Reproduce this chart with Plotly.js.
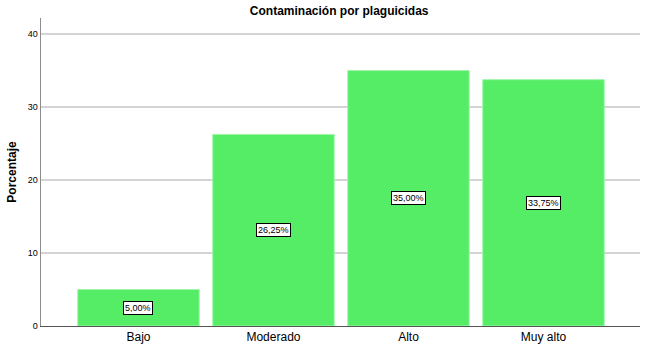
<!DOCTYPE html>
<html>
<head>
<meta charset="utf-8">
<script src="https://cdn.plot.ly/plotly-3.0.1.min.js"></script>
<style>html,body{margin:0;padding:0;background:#fff}#chart{width:651px;height:353px}</style>
</head>
<body>
<div id="chart"></div>
<script>
var categories = ["Bajo", "Moderado", "Alto", "Muy alto"];
var values = [5.00, 26.25, 35.00, 33.75];
var labels = ["5,00%", "26,25%", "35,00%", "33,75%"];
var yTicks = [0, 10, 20, 30, 40];

var xIdx = categories.map(function(c, i){ return i; });

var annotations = values.map(function(v, i){
  return {
    x: xIdx[i], y: v / 2, xref: 'x', yref: 'y',
    text: labels[i], showarrow: false,
    font: {family: 'Liberation Sans, Arial, sans-serif', size: 9, color: '#000'},
    bgcolor: '#ffffff', bordercolor: '#000000', borderwidth: 1, borderpad: 1
  };
});

var trace = {
  type: 'bar', x: xIdx, y: values, width: 0.9,
  marker: {color: 'rgb(85,237,102)', line: {color: 'rgb(160,245,170)', width: 1}},
  hoverinfo: 'none'
};

var layout = {
  width: 651, height: 353,
  margin: {l: 41, r: 11, t: 18, b: 27},
  paper_bgcolor: '#fff', plot_bgcolor: '#fff',
  font: {family: 'Liberation Sans, Arial, sans-serif', color: '#000'},
  title: {text: '<b>Contaminación por plaguicidas</b>', font: {size: 12}, x: 0.521, xanchor: 'center', y: 0.968, yanchor: 'middle'},
  showlegend: false,
  xaxis: {
    range: [-0.722, 3.715], tickvals: xIdx, ticktext: categories,
    tickfont: {size: 12}, showgrid: false, zeroline: false,
    showline: true, linecolor: '#555', linewidth: 1, ticks: '', fixedrange: true
  },
  yaxis: {
    range: [0, 42.2], tickvals: yTicks, ticktext: yTicks.map(String),
    tickfont: {size: 9}, showgrid: true, gridcolor: '#d4d4d4', gridwidth: 1.5,
    zeroline: false, showline: true, linecolor: '#8c8c8c', linewidth: 1.5,
    ticks: '', ticklen: 0, fixedrange: true,
    title: {text: '<b>Porcentaje</b>', font: {size: 12}, standoff: 8}
  },
  annotations: annotations
};

Plotly.newPlot('chart', [trace], layout, {displayModeBar: false, staticPlot: true});
</script>
</body>
</html>
